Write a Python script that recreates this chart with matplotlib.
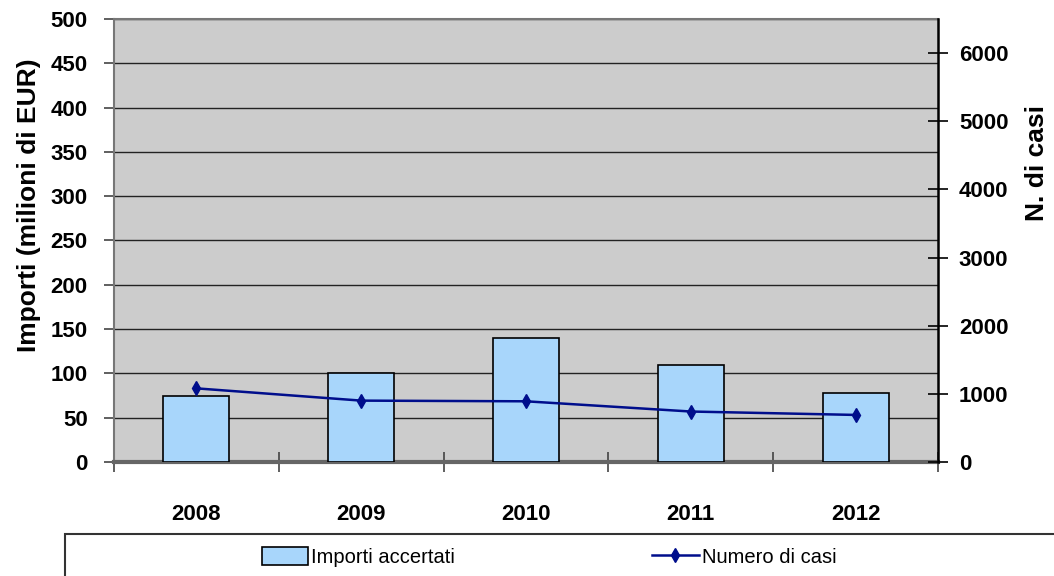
import matplotlib.pyplot as plt
import numpy as np
from matplotlib.patches import Rectangle
from matplotlib.lines import Line2D

anni = ['2008', '2009', '2010', '2011', '2012']
importi = [75, 100, 140, 110, 78]          # milioni di EUR
casi = [1080, 900, 890, 740, 690]          # numero di casi

plt.rcParams['font.family'] = ['Liberation Sans', 'DejaVu Sans']

fig = plt.figure(figsize=(10.54, 5.76), dpi=100)
ax = fig.add_axes([0.1082, 0.198, 0.7818, 0.769])
ax.set_facecolor('#cccccc')

x = np.arange(len(anni))
ax.bar(x, importi, width=0.4, color='#a8d6fb', edgecolor='black', linewidth=1.2, zorder=3)

ax.set_xlim(-0.5, len(anni) - 0.5)
ax.set_ylim(0, 500)
ax.set_yticks(np.arange(0, 501, 50))
ax.grid(axis='y', color='#222222', linewidth=1, zorder=0)
ax.set_axisbelow(True)

# tacche tra le categorie, etichette al centro
ax.set_xticks(np.arange(-0.5, len(anni), 1.0))
ax.set_xticklabels([])
ax.set_xticks(x, minor=True)
ax.set_xticklabels(anni, minor=True, fontsize=16, fontweight='bold')
ax.tick_params(axis='x', which='minor', length=0, pad=30)
ax.tick_params(axis='x', which='major', direction='inout', length=14, width=1.2, color='#444444')
ax.tick_params(axis='y', direction='out', length=7, width=1.2, color='#444444', labelsize=16, pad=12)
for lab in ax.get_yticklabels():
    lab.set_fontweight('bold')

ax.set_ylabel('Importi (milioni di EUR)', fontsize=19, fontweight='bold')
ax.yaxis.set_label_coords(-0.089, 0.58)

for s in ['left', 'top']:
    ax.spines[s].set_color('#777777')
    ax.spines[s].set_linewidth(1.5)
ax.spines['bottom'].set_color('#666666')
ax.spines['bottom'].set_linewidth(3)
ax.spines['right'].set_visible(False)

ax2 = ax.twinx()
ax2.plot(x, casi, color='#000e8c', linewidth=1.8, marker='d', markersize=7, zorder=4)
ax2.set_ylim(0, 6500)
ax2.set_yticks(np.arange(0, 6001, 1000))
ax2.tick_params(axis='y', direction='inout', length=14, width=1.2, color='black', labelsize=16, pad=8)
for lab in ax2.get_yticklabels():
    lab.set_fontweight('bold')
ax2.spines['right'].set_color('black')
ax2.spines['right'].set_linewidth(1.8)
for s in ['left', 'top', 'bottom']:
    ax2.spines[s].set_visible(False)
ax2.set_ylabel('N. di casi', fontsize=19, fontweight='bold')
ax2.yaxis.set_label_coords(1.105, 0.675)

# riquadro della legenda
fig.patches.append(Rectangle((65 / 1054, -0.01), 1.0, 48 / 576, transform=fig.transFigure,
                             facecolor='white', edgecolor='#333333', linewidth=1.5))
handles = [Rectangle((0, 0), 1, 1, facecolor='#a8d6fb', edgecolor='black', linewidth=1.2),
           Line2D([], [], color='#000e8c', linewidth=1.8, marker='d', markersize=7)]
fig.legend(handles, ['Importi accertati', 'Numero di casi'], loc='center',
           bbox_to_anchor=(549 / 1054, 19 / 576), ncol=2, frameon=False,
           prop={'size': 14.5}, handlelength=2.3, handleheight=1.0,
           handletextpad=0.15, columnspacing=9.8)

fig.savefig('out.png', dpi=100)
